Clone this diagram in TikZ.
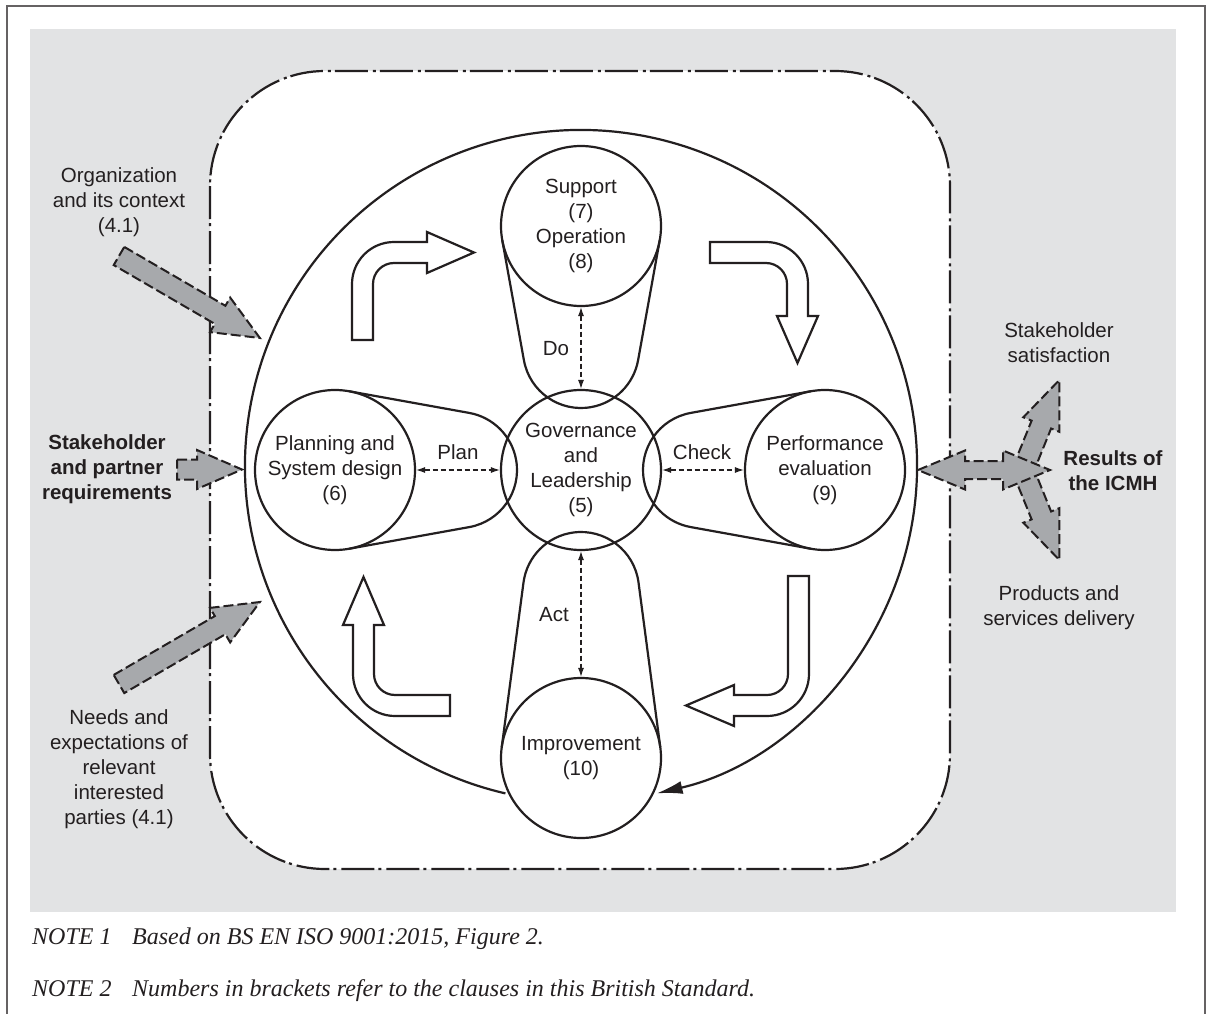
\documentclass[tikz,border=0pt]{standalone}
\usepackage{fontspec}
\setmainfont{Liberation Sans}
\newfontfamily\notefont{Liberation Serif}
\usepackage{tikz}
\usetikzlibrary{arrows.meta}

\definecolor{ink}{HTML}{231F20}
\definecolor{backgray}{HTML}{E2E3E4}
\definecolor{arrowgray}{HTML}{A7A9AC}

\begin{document}
\begin{tikzpicture}[x=1pt, y=-1pt,
    every node/.style={text=ink, font=\fontsize{20.5}{25}\selectfont, align=center},
    boldlabel/.style={font=\fontsize{20.5}{25}\selectfont\bfseries},
    note/.style={font=\notefont\itshape\fontsize{24}{28}\selectfont, align=left, inner sep=0pt, anchor=base west},
    clause/.style={draw=ink, line width=2.2pt, circle, minimum size=160pt, inner sep=0pt},
    belt/.style={draw=ink, line width=2.2pt},
    pdca/.style={draw=ink, line width=1.1pt, dash pattern=on 5pt off 3pt, >={Latex[length=9pt,width=6pt]}, <->},
    hollow/.style={draw=ink, line width=2.2pt, fill=white},
    feed/.style={draw=ink, line width=2pt, dash pattern=on 10pt off 4pt, fill=arrowgray},
    boundary/.style={draw=ink, line width=2.2pt, dash pattern=on 33pt off 4pt on 3pt off 5pt, fill=white}]
    \useasboundingbox (0,0) rectangle (1210,1014);

    % Frame and background
    \draw[ink!70, line width=1.2pt] (7,1014) -- (7,6) -- (1205,6) -- (1205,1014);
    \fill[backgray] (30,29) rectangle (1176,912);
    \draw[boundary, rounded corners=115pt] (210,71) rectangle (950,869);

    % Outer cycle
    \draw[draw=ink, line width=2.2pt, -{Latex[length=26pt,width=13pt]}]
        (581,466) ++(103:336) arc[start angle=103, end angle=437, radius=336];

    % Clauses
    \node[clause] (sup) at (581,226) {Support\\(7)\\Operation\\(8)};
    \node[clause] (gov) at (581,470) {Governance\\and\\Leadership\\(5)};
    \node[clause] (plan) at (335,470) {Planning and\\System design\\(6)};
    \node[clause] (perf) at (825,470) {Performance\\evaluation\\(9)};
    \node[clause] (imp) at (581,758) {Improvement\\(10)};

    % Belts
    \begin{scope}[shift={(sup.center)}, rotate=-90]
        \draw[belt] (14.19,78.74) -- (134.29,57.08) arc[start angle=79.78, end angle=-79.78, radius=58] -- (14.19,-78.74);
    \end{scope}
    \begin{scope}[shift={(plan.center)}]
        \draw[belt] (14.19,78.74) -- (134.29,57.08) arc[start angle=79.78, end angle=-79.78, radius=58] -- (14.19,-78.74);
    \end{scope}
    \begin{scope}[shift={(perf.center)}, rotate=180]
        \draw[belt] (14.19,78.74) -- (134.29,57.08) arc[start angle=79.78, end angle=-79.78, radius=58] -- (14.19,-78.74);
    \end{scope}
    \begin{scope}[shift={(imp.center)}, rotate=90]
        \draw[belt] (10.48,79.31) -- (175.6,57.5) arc[start angle=82.47, end angle=-82.47, radius=58] -- (10.48,-79.31);
    \end{scope}

    % Plan - Do - Check - Act
    \draw[pdca] (plan) -- (gov);
    \draw[pdca] (sup) -- (gov);
    \draw[pdca] (gov) -- (perf);
    \draw[pdca] (gov) -- (imp);
    \node (plantxt) at (458,452) {Plan};
    \node (dotxt) at (556,349) {Do};
    \node (checktxt) at (702,452) {Check};
    \node (acttxt) at (554,615) {Act};

    % Turning arrows
    \draw[hollow] (352,340) -- (352,284) arc[start angle=180, end angle=270, radius=42] -- (427,242) -- (427,232)
        -- (474,252.5) -- (427,273) -- (427,263) -- (394,263) arc[start angle=270, end angle=180, radius=21] -- (373,340) -- cycle;
    \draw[hollow] (710,242) -- (766,242) arc[start angle=270, end angle=360, radius=42] -- (808,316) -- (818,316)
        -- (797.5,363) -- (777,316) -- (787,316) -- (787,284) arc[start angle=0, end angle=-90, radius=21] -- (710,263) -- cycle;
    \draw[hollow] (788,576) -- (809,576) -- (809,674) arc[start angle=0, end angle=90, radius=42] -- (734,716) -- (734,726)
        -- (686,705.5) -- (734,685) -- (734,695) -- (767,695) arc[start angle=90, end angle=0, radius=21] -- cycle;
    \draw[hollow] (450,695) -- (450,716) -- (395,716) arc[start angle=90, end angle=180, radius=42] -- (353,625) -- (343,625)
        -- (363.5,577) -- (384,625) -- (374,625) -- (374,674) arc[start angle=180, end angle=90, radius=21] -- cycle;

    % Inputs
    \begin{scope}[shift={(119,256)}, rotate=-30.2]
        \draw[feed] (0,-10.5) -- (117,-10.5) -- (117,-20) -- (163,0) -- (117,20) -- (117,10.5) -- (0,10.5) -- cycle;
    \end{scope}
    \begin{scope}[shift={(119,684)}, rotate=30.2]
        \draw[feed] (0,-10.5) -- (117,-10.5) -- (117,-20) -- (163,0) -- (117,20) -- (117,10.5) -- (0,10.5) -- cycle;
    \end{scope}
    \draw[feed] (177,459.5) -- (197,459.5) -- (197,450) -- (242,469.5) -- (197,489) -- (197,479.5) -- (177,479.5) -- cycle;

    % Outputs
    \begin{scope}[shift={(1023,470)}, rotate=68]
        \draw[feed] (0,-10.5) -- (49,-10.5) -- (49,-19.5) -- (97,0) -- (49,19.5) -- (49,10.5) -- (0,10.5) -- cycle;
    \end{scope}
    \begin{scope}[shift={(1023,470)}, rotate=-68]
        \draw[feed] (0,-10.5) -- (49,-10.5) -- (49,-19.5) -- (97,0) -- (49,19.5) -- (49,10.5) -- (0,10.5) -- cycle;
    \end{scope}
    \draw[feed] (918,470) -- (965,450.5) -- (965,461) -- (1003,461) -- (1003,450.5) -- (1050,470) -- (1003,489.5)
        -- (1003,479) -- (965,479) -- (965,489.5) -- cycle;

    % Labels
    \node (orgctx) at (119,202) {Organization\\and its context\\(4.1)};
    \node[boldlabel] (stakereq) at (107,469) {Stakeholder\\and partner\\requirements};
    \node (needs) at (119,769) {Needs and\\expectations of\\relevant\\interested\\parties (4.1)};
    \node (satisf) at (1059,343) {Stakeholder\\satisfaction};
    \node[boldlabel] (results) at (1113,471) {Results of\\the ICMH};
    \node (delivery) at (1059,608) {Products and\\services delivery};

    % Notes
    \node[note] (note1) at (32,944) {\makebox[100pt][l]{NOTE 1}Based on BS EN ISO 9001:2015, Figure 2.};
    \node[note] (note2) at (32,996) {\makebox[100pt][l]{NOTE 2}Numbers in brackets refer to the clauses in this British Standard.};
\end{tikzpicture}
\end{document}
